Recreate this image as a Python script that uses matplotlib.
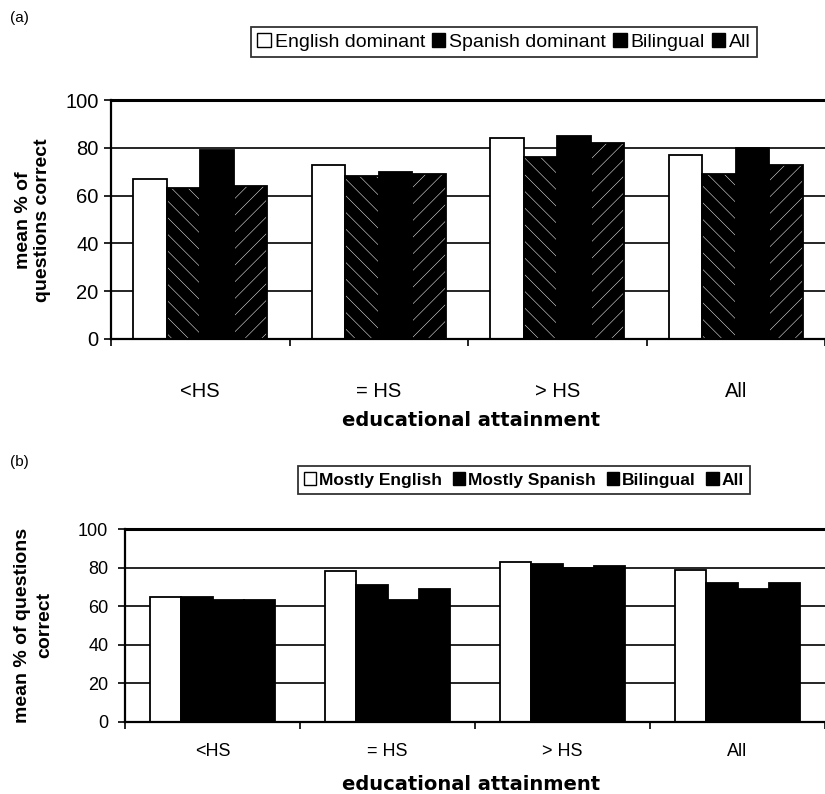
import matplotlib
matplotlib.use('Agg')
import matplotlib.pyplot as plt
from matplotlib.patches import Patch
import numpy as np

plt.rcParams['hatch.linewidth'] = 0.35

groups = ['<HS', '= HS', '> HS', 'All']

# panel (a)
a_series = ['English dominant', 'Spanish dominant', 'Bilingual', 'All']
a_english = [67, 73, 84, 77]
a_spanish = [63, 68, 76, 69]
a_bilingual = [79, 70, 85, 80]
a_all = [64, 69, 82, 73]

# panel (b)
b_series = ['Mostly English', 'Mostly Spanish', 'Bilingual', 'All']
b_english = [65, 78, 83, 79]
b_spanish = [65, 71, 82, 72]
b_bilingual = [63, 63, 80, 69]
b_all = [63, 69, 81, 72]

arial = ['Liberation Sans', 'DejaVu Sans']

fig = plt.figure(figsize=(8.25, 7.94), dpi=100)


def draw_panel(ax, values, styles, width, xlim, ticksize, xpad, ypad):
    x = np.arange(len(groups))
    n = len(values)
    for i, (vals, (fc, hatch)) in enumerate(zip(values, styles)):
        pos = x + (i - (n - 1) / 2) * width
        if hatch:
            ax.bar(pos, vals, width, color=fc, edgecolor='white', hatch=hatch,
                   linewidth=0, zorder=3)
        else:
            ax.bar(pos, vals, width, color=fc, linewidth=0, zorder=3)
        ax.bar(pos, vals, width, fill=False, edgecolor='black', linewidth=1.3, zorder=4)
    ax.set_ylim(0, 100)
    ax.set_xlim(*xlim)
    ax.set_yticks([0, 20, 40, 60, 80, 100])
    ax.set_yticklabels(['0', '20', '40', '60', '80', '100'],
                       family=arial, fontsize=ticksize)
    for yv in [20, 40, 60, 80]:
        ax.axhline(yv, color='black', linewidth=1.2, zorder=1)
    ax.axhline(100, color='black', linewidth=2.2, zorder=1, clip_on=False)
    ax.set_xticks(np.arange(len(groups) + 1) - 0.5)
    ax.set_xticklabels([])
    ax.set_xticks(x, minor=True)
    ax.set_xticklabels(groups, minor=True, family=arial, fontsize=ticksize)
    ax.tick_params(axis='x', which='major', direction='out', length=5, width=1.2)
    ax.tick_params(axis='x', which='minor', length=0, pad=xpad)
    ax.tick_params(axis='y', direction='out', length=5, width=1.2, pad=ypad)
    for s in ['top', 'right']:
        ax.spines[s].set_visible(False)
    for s in ['left', 'bottom']:
        ax.spines[s].set_linewidth(1.6)
        ax.spines[s].set_zorder(5)


# ---- panel (a)
ax1 = fig.add_axes([111 / 825, 1 - 339 / 794, 1 - 111 / 825, 239 / 794])
styles_a = [('white', None), ('black', '\\\\'), ('black', None), ('black', '//')]
draw_panel(ax1, [a_english, a_spanish, a_bilingual, a_all], styles_a, 0.188,
           (-0.5, 3.445), 14.5, 31, 4)

handles_a = [Patch(facecolor=fc, edgecolor='black') for fc, _ in styles_a]
leg = fig.legend(handles_a, a_series, loc='center', bbox_to_anchor=(504 / 825, 1 - 42 / 794),
                 ncol=4, frameon=True, fancybox=False, edgecolor='black',
                 prop={'family': arial, 'size': 14}, handlelength=0.7, handleheight=0.7,
                 handletextpad=0.2, columnspacing=0.35, borderpad=0.3, borderaxespad=0)
leg.get_frame().set_linewidth(1.3)

fig.text(33 / 825, 1 - 220 / 794, 'mean % of\nquestions correct', rotation=90,
         ha='center', va='center', multialignment='center', family=arial,
         fontsize=14, fontweight='bold', linespacing=1.15)
fig.text(471 / 825, 1 - 420 / 794, 'educational attainment', ha='center', va='center',
         family=['DejaVu Sans'], fontsize=14, fontweight='bold')
fig.text(10 / 825, 1 - 18 / 794, '(a)', ha='left', va='center', family=arial, fontsize=11)

# ---- panel (b)
ax2 = fig.add_axes([125 / 825, 1 - 722 / 794, 1 - 125 / 825, 193 / 794])
styles_b = [('white', None), ('black', None), ('black', None), ('black', None)]
draw_panel(ax2, [b_english, b_spanish, b_bilingual, b_all], styles_b, 0.178,
           (-0.486, 3.469), 13, 15, 7)

handles_b = [Patch(facecolor=fc, edgecolor='black') for fc, _ in styles_b]
leg2 = fig.legend(handles_b, b_series, loc='center', bbox_to_anchor=(524 / 825, 1 - 480 / 794),
                  ncol=4, frameon=True, fancybox=False, edgecolor='black',
                  prop={'family': arial, 'size': 12.5, 'weight': 'bold'}, handlelength=0.7,
                  handleheight=0.7, handletextpad=0.2, columnspacing=0.6, borderpad=0.35,
                  borderaxespad=0)
leg2.get_frame().set_linewidth(1.3)

fig.text(34 / 825, 1 - 625 / 794, 'mean % of questions\ncorrect', rotation=90,
         ha='center', va='center', multialignment='center', family=arial,
         fontsize=14, fontweight='bold', linespacing=1.4)
fig.text(471 / 825, 1 - 785 / 794, 'educational attainment', ha='center', va='center',
         family=['DejaVu Sans'], fontsize=14, fontweight='bold')
fig.text(10 / 825, 1 - 462 / 794, '(b)', ha='left', va='center', family=arial, fontsize=11)

fig.savefig('out.png', dpi=100)
